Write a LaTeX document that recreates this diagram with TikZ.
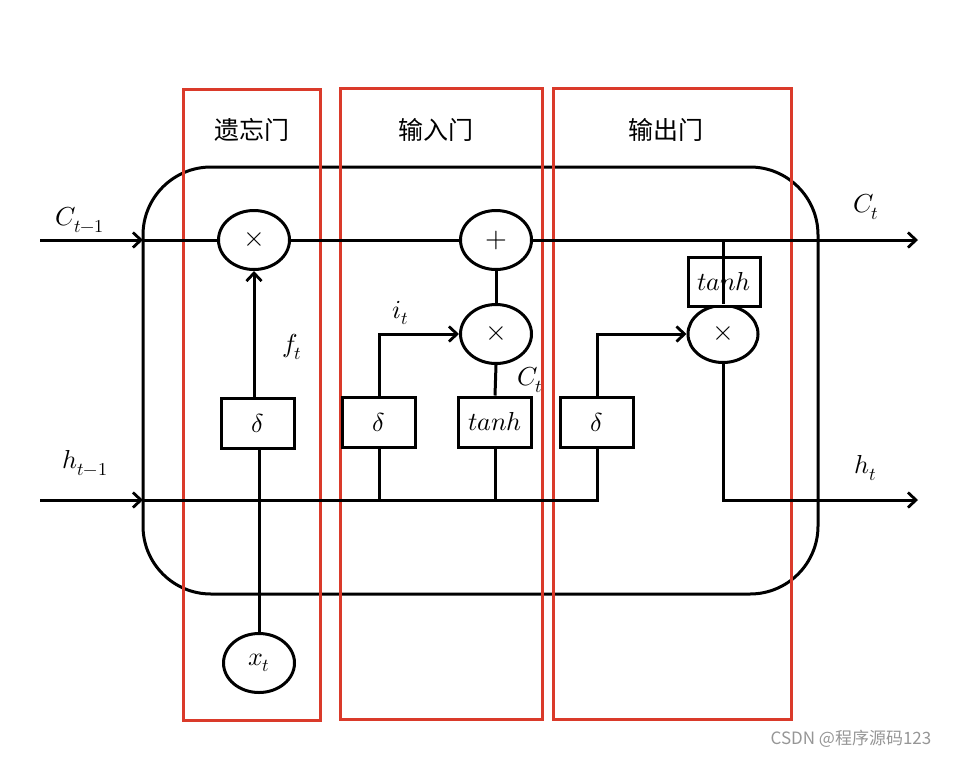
\documentclass[tikz,border=0pt]{standalone}
\usepackage{fontspec}
\usepackage{unicode-math}
\setmathfont{Latin Modern Math}
\newfontfamily\cjk{Noto Sans CJK SC}
\usetikzlibrary{shapes.geometric,arrows.meta}
\definecolor{gatered}{RGB}{218,58,42}
\definecolor{wmgray}{RGB}{150,150,150}
\tikzset{
  ln/.style={line width=3pt},
  arr/.style={ln,-{Straight Barb[length=8pt,width=15pt,line width=2.8pt]}},
  op/.style={ellipse,draw,line width=3pt,fill=white,minimum width=71pt,minimum height=59pt,inner sep=0pt,font=\fontsize{28}{32}\selectfont},
  fbox/.style={rectangle,draw,line width=3pt,fill=white,minimum width=73pt,minimum height=50pt,inner sep=0pt,font=\fontsize{26}{30}\selectfont},
  gate/.style={draw=gatered,line width=3pt},
  gatelbl/.style={font=\cjk\fontsize{25}{30}\selectfont},
  mlbl/.style={font=\fontsize{26}{30}\selectfont,inner sep=0pt},
}
\begin{document}
\begin{tikzpicture}[x=1pt,y=-1pt]
\useasboundingbox (0,0) rectangle (960,758);
% cell body
\draw[ln,rounded corners=68pt] (143,167) rectangle (818,594);
% gate frames
\draw[gate] (183,89) rectangle (320,720);
\draw[gate] (340,88) rectangle (542,719);
\draw[gate] (553,88) rectangle (791,719);
\node[gatelbl] (g1) at (252,130) {遗忘门};
\node[gatelbl] (g2) at (436,130) {输入门};
\node[gatelbl] (g3) at (666,130) {输出门};
% coordinates
\coordinate (cin) at (40,240);
\coordinate (cedge) at (143,240);
\coordinate (cout) at (918,240);
\coordinate (hin) at (40,500);
\coordinate (hedge) at (143,500);
\coordinate (hjoin) at (597,500);
\coordinate (hout) at (918,500);
\coordinate (tap) at (723,240);
% nodes
\node[op] (fx) at (254,240) {$\times$};
\node[fbox] (fd) at (258,423) {$\delta$};
\node[op] (xt) at (259,663) {\fontsize{26}{30}\selectfont$x_t$};
\node[op] (plus) at (496,240) {$+$};
\node[op] (ix) at (496,334) {$\times$};
\node[fbox] (id) at (379,422) {$\delta$};
\node[fbox] (it) at (495,422) {$tanh$};
\node[fbox] (od) at (597,422) {$\delta$};
\node[op,minimum width=70pt,minimum height=57pt] (ox) at (723,334) {$\times$};
\node[fbox,minimum width=72pt,minimum height=49pt] (ot) at (724,282) {$tanh$};
% C line
\draw[arr] (cin) -- (cedge);
\draw[ln] (cedge) -- (fx.west);
\draw[ln] (fx.east) -- (plus.west);
\draw[arr] (plus.east) -- (cout);
% h line
\draw[arr] (hin) -- (hedge);
\draw[ln] (hedge) -- (hjoin) -- (od.south);
% forget gate
\draw[ln] (xt.north) -- (xt.north |- fd.south);
\draw[arr] (fx.south |- fd.north) -- (fx.south);
% input gate
\draw[ln] (id.south) -- (id.south |- hedge);
\draw[ln] (it.south) -- (it.south |- hedge);
\draw[arr] (id.north) |- (ix.west);
\draw[ln] (it.north) -- (ix.south);
\draw[ln] (ix.north) -- (plus.south);
% output gate
\draw[arr] (od.north) |- (ox.west);
\draw[ln] (tap) -- (ox.north);
\draw[arr] (ox.south) |- (hout);
% labels
\node[mlbl] (lc1) at (80,220) {$C_{t-1}$};
\node[mlbl] (lh1) at (85,463) {$h_{t-1}$};
\node[mlbl] (lct) at (866,207) {$C_t$};
\node[mlbl] (lht) at (866,468) {$h_t$};
\node[mlbl] (lf) at (292,347) {$f_t$};
\node[mlbl] (li) at (401,313) {$i_t$};
\node[mlbl] (lcc) at (530,380) {$C_t$};
% watermark
\node[font=\cjk\fontsize{17}{20}\selectfont,text=wmgray,inner sep=0pt] (wm) at (851,739) {CSDN @程序源码123};
\end{tikzpicture}
\end{document}
